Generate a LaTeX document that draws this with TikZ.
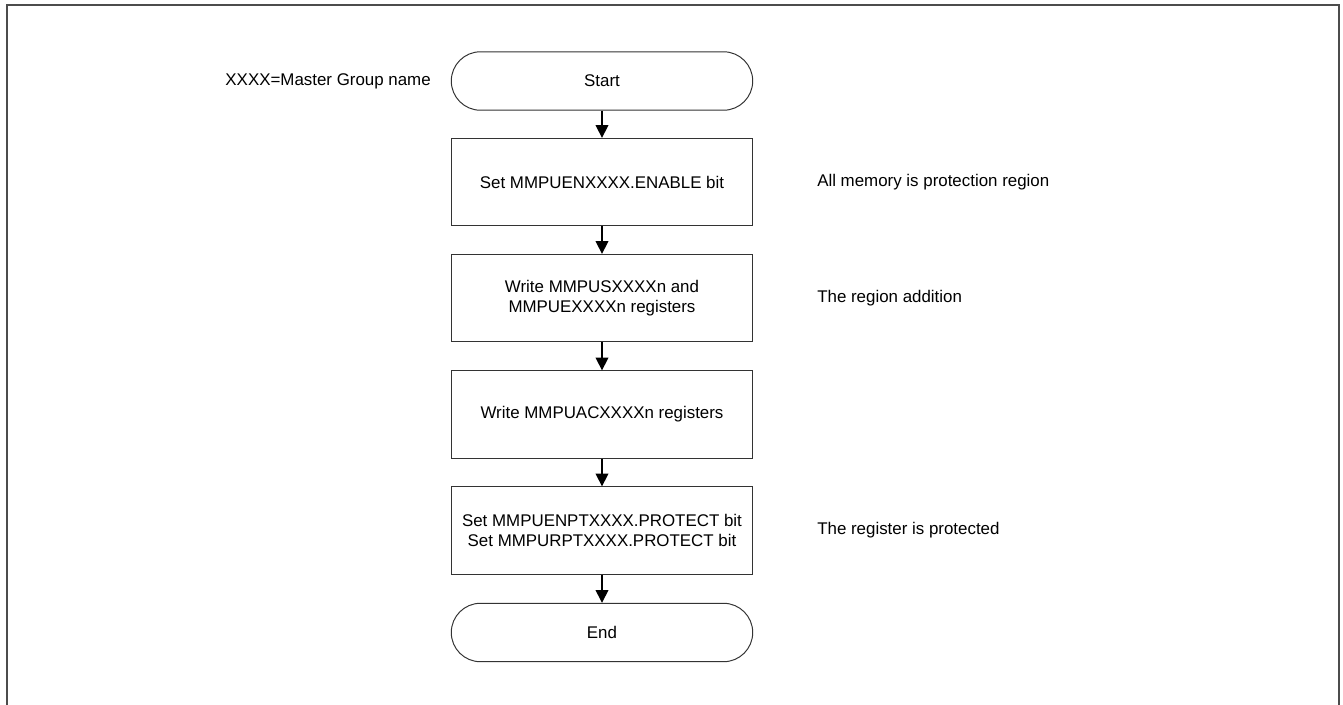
\documentclass[tikz,border=0pt]{standalone}
\usepackage{fontspec}
\setmainfont{Liberation Sans}
\usetikzlibrary{arrows.meta, positioning}

\begin{document}
\begin{tikzpicture}[
  x=0.71pt, y=-0.71pt,
  procbox/.style={draw=black!80, line width=0.7pt, fill=white, minimum width=214pt, minimum height=62pt, align=center, inner sep=0pt, font=\fontsize{12}{14.3}\selectfont},
  termbox/.style={procbox, minimum height=41.5pt, rounded corners=20.7pt},
  note/.style={inner sep=0pt, font=\fontsize{12}{14.3}\selectfont},
  flow/.style={line width=1pt, -{Triangle[length=9pt, width=9pt]}}
]
  \useasboundingbox (0,0) rectangle (1343,704);
  % frame
  \draw[line width=1.4pt, black!70] (7,710) -- (7,5) -- (1339,5) -- (1339,710);

  \node[termbox] (start) at (602, 81)    {Start};
  \node[procbox] (enable) at (602, 182)  {Set MMPUENXXXX.ENABLE bit};
  \node[procbox] (region) at (602, 298)  {Write MMPUSXXXXn and\\MMPUEXXXXn registers};
  \node[procbox] (access) at (602, 414.5) {Write MMPUACXXXXn registers};
  \node[procbox] (protect) at (602, 530.5) {Set MMPUENPTXXXX.PROTECT bit\\Set MMPURPTXXXX.PROTECT bit};
  \node[termbox] (end) at (602, 632.5)   {End};

  \node[note, anchor=east] (master) at (431, 81) {XXXX=Master Group name};
  \node[note, anchor=west] (allmem) at (817, 182) {All memory is protection region};
  \node[note, anchor=west] (addition) at (817, 298) {The region addition};
  \node[note, anchor=west] (protected) at (817, 530.5) {The register is protected};

  \draw[flow] (start) -- (enable);
  \draw[flow] (enable) -- (region);
  \draw[flow] (region) -- (access);
  \draw[flow] (access) -- (protect);
  \draw[flow] (protect) -- (end);
\end{tikzpicture}
\end{document}
